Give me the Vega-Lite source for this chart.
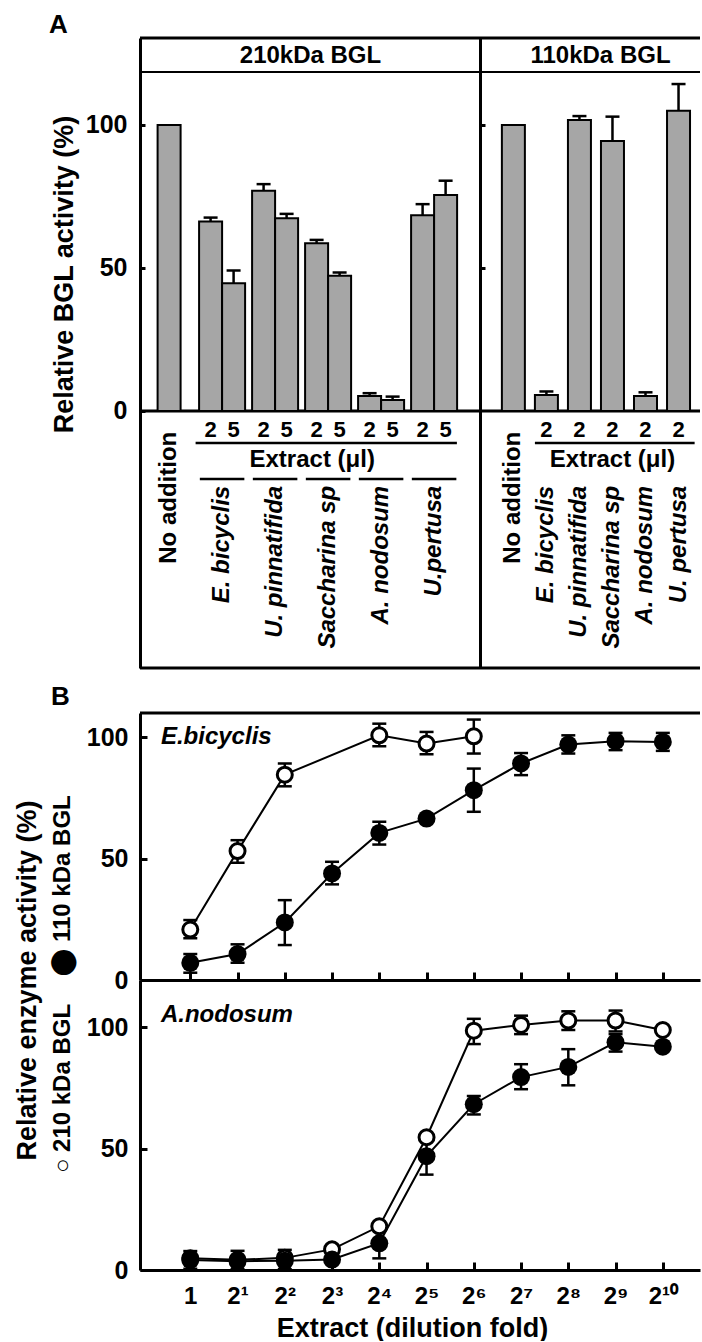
{
  "$schema": "https://vega.github.io/schema/vega-lite/v6.json",
  "background": "white",
  "padding": {"left": 13, "top": 12, "right": 0, "bottom": 0},
  "autosize": {"type": "pad"},
  "bounds": "flush",
  "spacing": 45,
  "config": {
    "font": "Liberation Sans",
    "view": {"stroke": null},
    "axis": {"labelFont": "Liberation Sans", "titleFont": "Liberation Sans", "labelFontWeight": "bold", "titleFontWeight": "bold", "labelColor": "black", "titleColor": "black", "domainColor": "black", "tickColor": "black", "grid": false, "labelFlush": false},
    "title": {"font": "Liberation Sans", "fontWeight": "bold", "color": "black"},
    "text": {"font": "Liberation Sans", "fontWeight": "bold", "color": "black"}
  },
  "datasets": {
    "bars": [
      {"panel": "210", "group": "No addition", "dose": null, "value": 100, "hi": null},
      {"panel": "210", "group": "E. bicyclis", "dose": "2", "value": 66.2, "hi": 67.6},
      {"panel": "210", "group": "E. bicyclis", "dose": "5", "value": 44.6, "hi": 49.1},
      {"panel": "210", "group": "U. pinnatifida", "dose": "2", "value": 77.0, "hi": 79.3},
      {"panel": "210", "group": "U. pinnatifida", "dose": "5", "value": 67.4, "hi": 68.9},
      {"panel": "210", "group": "Saccharina sp", "dose": "2", "value": 58.6, "hi": 59.8},
      {"panel": "210", "group": "Saccharina sp", "dose": "5", "value": 47.3, "hi": 48.4},
      {"panel": "210", "group": "A. nodosum", "dose": "2", "value": 5.2, "hi": 6.2},
      {"panel": "210", "group": "A. nodosum", "dose": "5", "value": 3.8, "hi": 5.0},
      {"panel": "210", "group": "U.pertusa", "dose": "2", "value": 68.4, "hi": 72.3},
      {"panel": "210", "group": "U.pertusa", "dose": "5", "value": 75.5, "hi": 80.5},
      {"panel": "110", "group": "No addition", "dose": null, "value": 100, "hi": null},
      {"panel": "110", "group": "E. bicyclis", "dose": "2", "value": 5.6, "hi": 6.8},
      {"panel": "110", "group": "U. pinnatifida", "dose": "2", "value": 101.7, "hi": 103.1},
      {"panel": "110", "group": "Saccharina sp", "dose": "2", "value": 94.4, "hi": 102.9},
      {"panel": "110", "group": "A. nodosum", "dose": "2", "value": 5.2, "hi": 6.5},
      {"panel": "110", "group": "U. pertusa", "dose": "2", "value": 105.0, "hi": 114.3}
    ],
    "curves": [
      {"species": "E.bicyclis", "bgl": "210", "fold": 1, "value": 20.8, "lo": 17.2, "hi": 24.7},
      {"species": "E.bicyclis", "bgl": "210", "fold": 2, "value": 53.1, "lo": 48.3, "hi": 57.6},
      {"species": "E.bicyclis", "bgl": "210", "fold": 4, "value": 84.6, "lo": 79.8, "hi": 89.2},
      {"species": "E.bicyclis", "bgl": "210", "fold": 16, "value": 100.8, "lo": 96.3, "hi": 105.6},
      {"species": "E.bicyclis", "bgl": "210", "fold": 32, "value": 97.4, "lo": 93.0, "hi": 102.2},
      {"species": "E.bicyclis", "bgl": "210", "fold": 64, "value": 100.4, "lo": 93.3, "hi": 107.3},
      {"species": "E.bicyclis", "bgl": "110", "fold": 1, "value": 7.1, "lo": 3.0, "hi": 10.7},
      {"species": "E.bicyclis", "bgl": "110", "fold": 2, "value": 10.7, "lo": 7.1, "hi": 14.7},
      {"species": "E.bicyclis", "bgl": "110", "fold": 4, "value": 23.7, "lo": 14.4, "hi": 32.9},
      {"species": "E.bicyclis", "bgl": "110", "fold": 8, "value": 43.9, "lo": 39.4, "hi": 48.7},
      {"species": "E.bicyclis", "bgl": "110", "fold": 16, "value": 60.6, "lo": 55.8, "hi": 65.2},
      {"species": "E.bicyclis", "bgl": "110", "fold": 32, "value": 66.5, "lo": null, "hi": null},
      {"species": "E.bicyclis", "bgl": "110", "fold": 64, "value": 78.2, "lo": 69.3, "hi": 87.1},
      {"species": "E.bicyclis", "bgl": "110", "fold": 128, "value": 89.2, "lo": 84.4, "hi": 93.5},
      {"species": "E.bicyclis", "bgl": "110", "fold": 256, "value": 97.0, "lo": 93.3, "hi": 100.8},
      {"species": "E.bicyclis", "bgl": "110", "fold": 512, "value": 98.4, "lo": 94.7, "hi": 101.8},
      {"species": "E.bicyclis", "bgl": "110", "fold": 1024, "value": 98.1, "lo": 94.4, "hi": 101.8},
      {"species": "A.nodosum", "bgl": "210", "fold": 1, "value": 4.8, "lo": null, "hi": null},
      {"species": "A.nodosum", "bgl": "210", "fold": 2, "value": 4.2, "lo": null, "hi": null},
      {"species": "A.nodosum", "bgl": "210", "fold": 4, "value": 5.0, "lo": null, "hi": null},
      {"species": "A.nodosum", "bgl": "210", "fold": 8, "value": 8.5, "lo": null, "hi": null},
      {"species": "A.nodosum", "bgl": "210", "fold": 16, "value": 18.0, "lo": null, "hi": null},
      {"species": "A.nodosum", "bgl": "210", "fold": 32, "value": 54.7, "lo": null, "hi": null},
      {"species": "A.nodosum", "bgl": "210", "fold": 64, "value": 98.6, "lo": 93.1, "hi": 103.5},
      {"species": "A.nodosum", "bgl": "210", "fold": 128, "value": 101.0, "lo": 97.2, "hi": 104.8},
      {"species": "A.nodosum", "bgl": "210", "fold": 256, "value": 102.8, "lo": 98.9, "hi": 106.6},
      {"species": "A.nodosum", "bgl": "210", "fold": 512, "value": 102.8, "lo": 98.3, "hi": 106.9},
      {"species": "A.nodosum", "bgl": "210", "fold": 1024, "value": 98.9, "lo": null, "hi": null},
      {"species": "A.nodosum", "bgl": "110", "fold": 1, "value": 4.1, "lo": 0.5, "hi": 7.8},
      {"species": "A.nodosum", "bgl": "110", "fold": 2, "value": 3.6, "lo": 0.3, "hi": 7.9},
      {"species": "A.nodosum", "bgl": "110", "fold": 4, "value": 3.8, "lo": 0.3, "hi": 8.3},
      {"species": "A.nodosum", "bgl": "110", "fold": 8, "value": 4.3, "lo": null, "hi": null},
      {"species": "A.nodosum", "bgl": "110", "fold": 16, "value": 11.0, "lo": 4.8, "hi": 17.2},
      {"species": "A.nodosum", "bgl": "110", "fold": 32, "value": 46.9, "lo": 39.3, "hi": 53.8},
      {"species": "A.nodosum", "bgl": "110", "fold": 64, "value": 68.3, "lo": 64.1, "hi": 71.7},
      {"species": "A.nodosum", "bgl": "110", "fold": 128, "value": 79.5, "lo": 74.5, "hi": 84.8},
      {"species": "A.nodosum", "bgl": "110", "fold": 256, "value": 83.7, "lo": 76.1, "hi": 91.0},
      {"species": "A.nodosum", "bgl": "110", "fold": 512, "value": 93.8, "lo": 90.0, "hi": 97.2},
      {"species": "A.nodosum", "bgl": "110", "fold": 1024, "value": 92.0, "lo": null, "hi": null}
    ]
  },
  "vconcat": [
    {
      "width": 560,
      "height": 630,
      "title": {"text": "A", "anchor": "start", "frame": "group", "fontSize": 26, "dx": -91, "offset": -22.5, "baseline": "alphabetic"},
      "layer": [
        {
          "layer": [
            {"data": {"values": [{}]}, "mark": {"type": "rule", "strokeWidth": 3, "color": "black"},
             "encoding": {"y": {"datum": 130.4, "type": "quantitative", "scale": {"domain": [-89.9, 130.4], "nice": false, "zero": false}}}},
            {"data": {"values": [{}]}, "mark": {"type": "rule", "strokeWidth": 2, "color": "black"},
             "encoding": {"y": {"datum": 118.5, "type": "quantitative", "scale": {"domain": [-89.9, 130.4], "nice": false, "zero": false}}}},
            {"data": {"values": [{}]}, "mark": {"type": "rule", "strokeWidth": 3, "color": "black"},
             "encoding": {"y": {"datum": 0, "type": "quantitative", "scale": {"domain": [-89.9, 130.4], "nice": false, "zero": false}}}},
            {"data": {"values": [{}]}, "mark": {"type": "rule", "strokeWidth": 3, "color": "black"},
             "encoding": {"y": {"datum": -89.9, "type": "quantitative", "scale": {"domain": [-89.9, 130.4], "nice": false, "zero": false}}}},
            {"data": {"name": "bars"}, "transform": [{"filter": "datum.panel == '210' && datum.dose == null"}],
             "mark": {"type": "bar", "width": {"band": 0.434}, "fill": "#a6a6a6", "stroke": "black", "strokeWidth": 2},
             "encoding": {
               "x": {"field": "group", "type": "nominal", "scale": {"type": "band", "domain": ["No addition", "E. bicyclis", "U. pinnatifida", "Saccharina sp", "A. nodosum", "U.pertusa"], "range": [0, 340], "paddingInner": 0, "paddingOuter": 0.2075, "align": 0.118},
                     "axis": {"orient": "top", "title": "210kDa BGL", "titleY": 17, "titleBaseline": "middle", "titleFontSize": 24, "domain": false, "ticks": false, "labels": false, "minExtent": 0}},
               "y": {"field": "value", "type": "quantitative", "scale": {"domain": [-89.9, 130.4], "nice": false, "zero": false},
                     "axis": {"orient": "left", "values": [0, 50, 100], "title": "Relative BGL activity (%)", "titleX": -76, "titleY": 236, "titleAngle": 270, "titleAlign": "center", "titleBaseline": "middle", "titleFontSize": 27, "labelFontSize": 25, "tickSize": -5, "tickWidth": 3, "labelPadding": 18, "domainWidth": 3}}
             }},
            {"data": {"name": "bars"}, "transform": [{"filter": "datum.panel == '210' && datum.hi != null"}],
             "mark": {"type": "rule", "strokeWidth": 2.5, "color": "black"},
             "encoding": {
               "x": {"field": "group", "type": "nominal", "scale": {"type": "band", "domain": ["No addition", "E. bicyclis", "U. pinnatifida", "Saccharina sp", "A. nodosum", "U.pertusa"], "range": [0, 340], "paddingInner": 0, "paddingOuter": 0.2075, "align": 0.118}},
               "xOffset": {"field": "dose", "type": "nominal", "scale": {"type": "band", "domain": ["2", "5"], "paddingInner": 0, "paddingOuter": 0.152}},
               "y": {"field": "value", "type": "quantitative", "scale": {"domain": [-89.9, 130.4], "nice": false, "zero": false}},
               "y2": {"field": "hi"}
             }},
            {"data": {"name": "bars"}, "transform": [{"filter": "datum.panel == '210' && datum.hi != null"}],
             "mark": {"type": "tick", "orient": "horizontal", "size": 14, "thickness": 2.5, "color": "black", "opacity": 1},
             "encoding": {
               "x": {"field": "group", "type": "nominal", "scale": {"type": "band", "domain": ["No addition", "E. bicyclis", "U. pinnatifida", "Saccharina sp", "A. nodosum", "U.pertusa"], "range": [0, 340], "paddingInner": 0, "paddingOuter": 0.2075, "align": 0.118}},
               "xOffset": {"field": "dose", "type": "nominal", "scale": {"type": "band", "domain": ["2", "5"], "paddingInner": 0, "paddingOuter": 0.152}},
               "y": {"field": "hi", "type": "quantitative", "scale": {"domain": [-89.9, 130.4], "nice": false, "zero": false}}
             }},
            {"data": {"name": "bars"}, "transform": [{"filter": "datum.panel == '210' && datum.dose != null"}],
             "mark": {"type": "bar", "fill": "#a6a6a6", "stroke": "black", "strokeWidth": 2},
             "encoding": {
               "x": {"field": "group", "type": "nominal", "scale": {"type": "band", "domain": ["No addition", "E. bicyclis", "U. pinnatifida", "Saccharina sp", "A. nodosum", "U.pertusa"], "range": [0, 340], "paddingInner": 0, "paddingOuter": 0.2075, "align": 0.118}},
               "xOffset": {"field": "dose", "type": "nominal", "scale": {"type": "band", "domain": ["2", "5"], "paddingInner": 0, "paddingOuter": 0.152}},
               "y": {"field": "value", "type": "quantitative", "scale": {"domain": [-89.9, 130.4], "nice": false, "zero": false}}
             }},
            {"data": {"name": "bars"}, "transform": [{"filter": "datum.panel == '210' && datum.dose != null"}],
             "mark": {"type": "text", "fontSize": 22, "baseline": "middle"},
             "encoding": {
               "x": {"field": "group", "type": "nominal", "scale": {"type": "band", "domain": ["No addition", "E. bicyclis", "U. pinnatifida", "Saccharina sp", "A. nodosum", "U.pertusa"], "range": [0, 340], "paddingInner": 0, "paddingOuter": 0.2075, "align": 0.118}},
               "xOffset": {"field": "dose", "type": "nominal", "scale": {"type": "band", "domain": ["2", "5"], "paddingInner": 0, "paddingOuter": 0.152}},
               "y": {"datum": -6.6, "type": "quantitative", "scale": {"domain": [-89.9, 130.4], "nice": false, "zero": false}},
               "text": {"field": "dose"}
             }},
            {"data": {"values": [{}]},
             "mark": {"type": "rule", "strokeWidth": 2.5, "color": "black"},
             "encoding": {
               "x": {"datum": "E. bicyclis", "type": "nominal", "bandPosition": 0, "scale": {"type": "band", "domain": ["No addition", "E. bicyclis", "U. pinnatifida", "Saccharina sp", "A. nodosum", "U.pertusa"], "range": [0, 340], "paddingInner": 0, "paddingOuter": 0.2075, "align": 0.118}},
               "x2": {"datum": "U.pertusa", "bandPosition": 0.93},
               "y": {"datum": -11.2, "type": "quantitative", "scale": {"domain": [-89.9, 130.4], "nice": false, "zero": false}}
             }},
            {"data": {"values": [{}]},
             "mark": {"type": "text", "text": "Extract (μl)", "fontSize": 24, "baseline": "middle", "align": "center"},
             "encoding": {
               "x": {"datum": "Saccharina sp", "type": "nominal", "bandPosition": 0.2, "scale": {"type": "band", "domain": ["No addition", "E. bicyclis", "U. pinnatifida", "Saccharina sp", "A. nodosum", "U.pertusa"], "range": [0, 340], "paddingInner": 0, "paddingOuter": 0.2075, "align": 0.118}},
               "y": {"datum": -17.1, "type": "quantitative", "scale": {"domain": [-89.9, 130.4], "nice": false, "zero": false}}
             }},
            {"data": {"name": "bars"}, "transform": [{"filter": "datum.panel == '210' && datum.dose == '2'"}],
             "mark": {"type": "rule", "strokeWidth": 2.5, "color": "black"},
             "encoding": {
               "x": {"field": "group", "type": "nominal", "bandPosition": 0.08, "scale": {"type": "band", "domain": ["No addition", "E. bicyclis", "U. pinnatifida", "Saccharina sp", "A. nodosum", "U.pertusa"], "range": [0, 340], "paddingInner": 0, "paddingOuter": 0.2075, "align": 0.118}},
               "x2": {"field": "group", "bandPosition": 0.92},
               "y": {"datum": -23.8, "type": "quantitative", "scale": {"domain": [-89.9, 130.4], "nice": false, "zero": false}}
             }},
            {"data": {"name": "bars"}, "transform": [{"filter": "datum.panel == '210' && datum.dose == '2'"}],
             "mark": {"type": "text", "angle": 270, "align": "right", "baseline": "middle", "fontSize": 24, "fontStyle": "italic"},
             "encoding": {
               "x": {"field": "group", "type": "nominal", "scale": {"type": "band", "domain": ["No addition", "E. bicyclis", "U. pinnatifida", "Saccharina sp", "A. nodosum", "U.pertusa"], "range": [0, 340], "paddingInner": 0, "paddingOuter": 0.2075, "align": 0.118}},
               "y": {"datum": -26.2, "type": "quantitative", "scale": {"domain": [-89.9, 130.4], "nice": false, "zero": false}},
               "text": {"field": "group"}
             }},
            {"data": {"name": "bars"}, "transform": [{"filter": "datum.panel == '210' && datum.dose == null"}],
             "mark": {"type": "text", "angle": 270, "align": "right", "baseline": "middle", "fontSize": 24},
             "encoding": {
               "x": {"field": "group", "type": "nominal", "scale": {"type": "band", "domain": ["No addition", "E. bicyclis", "U. pinnatifida", "Saccharina sp", "A. nodosum", "U.pertusa"], "range": [0, 340], "paddingInner": 0, "paddingOuter": 0.2075, "align": 0.118}},
               "y": {"datum": -7.3, "type": "quantitative", "scale": {"domain": [-89.9, 130.4], "nice": false, "zero": false}},
               "text": {"field": "group"}
             }}
          ]
        },
        {
          "layer": [
            {"data": {"name": "bars"}, "transform": [{"filter": "datum.panel == '110' && datum.hi != null"}],
             "mark": {"type": "rule", "strokeWidth": 2.5, "color": "black"},
             "encoding": {
               "x": {"field": "group", "type": "nominal", "scale": {"type": "band", "domain": ["No addition", "E. bicyclis", "U. pinnatifida", "Saccharina sp", "A. nodosum", "U. pertusa"], "range": [340, 580], "paddingInner": 0.3037, "paddingOuter": 0.785, "align": 0.422},
                     "axis": {"orient": "top", "title": "110kDa BGL", "titleY": 17, "titleBaseline": "middle", "titleFontSize": 24, "domain": false, "ticks": false, "labels": false, "minExtent": 0}},
               "y": {"field": "value", "type": "quantitative", "scale": {"domain": [-89.9, 130.4], "nice": false, "zero": false},
                     "axis": {"orient": "right", "offset": -220, "values": [50, 100], "labels": false, "title": null, "tickSize": 5, "tickWidth": 3, "domainWidth": 3}},
               "y2": {"field": "hi"}
             }},
            {"data": {"name": "bars"}, "transform": [{"filter": "datum.panel == '110' && datum.hi != null"}],
             "mark": {"type": "tick", "orient": "horizontal", "size": 14, "thickness": 2.5, "color": "black", "opacity": 1},
             "encoding": {
               "x": {"field": "group", "type": "nominal", "scale": {"type": "band", "domain": ["No addition", "E. bicyclis", "U. pinnatifida", "Saccharina sp", "A. nodosum", "U. pertusa"], "range": [340, 580], "paddingInner": 0.3037, "paddingOuter": 0.785, "align": 0.422}},
               "y": {"field": "hi", "type": "quantitative", "scale": {"domain": [-89.9, 130.4], "nice": false, "zero": false}}
             }},
            {"data": {"name": "bars"}, "transform": [{"filter": "datum.panel == '110'"}],
             "mark": {"type": "bar", "fill": "#a6a6a6", "stroke": "black", "strokeWidth": 2},
             "encoding": {
               "x": {"field": "group", "type": "nominal", "scale": {"type": "band", "domain": ["No addition", "E. bicyclis", "U. pinnatifida", "Saccharina sp", "A. nodosum", "U. pertusa"], "range": [340, 580], "paddingInner": 0.3037, "paddingOuter": 0.785, "align": 0.422}},
               "y": {"field": "value", "type": "quantitative", "scale": {"domain": [-89.9, 130.4], "nice": false, "zero": false}}
             }},
            {"data": {"name": "bars"}, "transform": [{"filter": "datum.panel == '110' && datum.dose != null"}],
             "mark": {"type": "text", "fontSize": 22, "baseline": "middle"},
             "encoding": {
               "x": {"field": "group", "type": "nominal", "scale": {"type": "band", "domain": ["No addition", "E. bicyclis", "U. pinnatifida", "Saccharina sp", "A. nodosum", "U. pertusa"], "range": [340, 580], "paddingInner": 0.3037, "paddingOuter": 0.785, "align": 0.422}},
               "y": {"datum": -6.6, "type": "quantitative", "scale": {"domain": [-89.9, 130.4], "nice": false, "zero": false}},
               "text": {"field": "dose"}
             }},
            {"data": {"values": [{}]},
             "mark": {"type": "rule", "strokeWidth": 2.5, "color": "black"},
             "encoding": {
               "x": {"datum": "E. bicyclis", "type": "nominal", "bandPosition": 0, "scale": {"type": "band", "domain": ["No addition", "E. bicyclis", "U. pinnatifida", "Saccharina sp", "A. nodosum", "U. pertusa"], "range": [340, 580], "paddingInner": 0.3037, "paddingOuter": 0.785, "align": 0.422}},
               "x2": {"datum": "U. pertusa", "bandPosition": 1.2},
               "y": {"datum": -11.2, "type": "quantitative", "scale": {"domain": [-89.9, 130.4], "nice": false, "zero": false}}
             }},
            {"data": {"values": [{}]},
             "mark": {"type": "text", "text": "Extract (μl)", "fontSize": 24, "baseline": "middle", "align": "center"},
             "encoding": {
               "x": {"datum": "Saccharina sp", "type": "nominal", "scale": {"type": "band", "domain": ["No addition", "E. bicyclis", "U. pinnatifida", "Saccharina sp", "A. nodosum", "U. pertusa"], "range": [340, 580], "paddingInner": 0.3037, "paddingOuter": 0.785, "align": 0.422}},
               "y": {"datum": -17.1, "type": "quantitative", "scale": {"domain": [-89.9, 130.4], "nice": false, "zero": false}}
             }},
            {"data": {"name": "bars"}, "transform": [{"filter": "datum.panel == '110' && datum.dose != null"}],
             "mark": {"type": "text", "angle": 270, "align": "right", "baseline": "middle", "fontSize": 24, "fontStyle": "italic"},
             "encoding": {
               "x": {"field": "group", "type": "nominal", "scale": {"type": "band", "domain": ["No addition", "E. bicyclis", "U. pinnatifida", "Saccharina sp", "A. nodosum", "U. pertusa"], "range": [340, 580], "paddingInner": 0.3037, "paddingOuter": 0.785, "align": 0.422}},
               "y": {"datum": -26.2, "type": "quantitative", "scale": {"domain": [-89.9, 130.4], "nice": false, "zero": false}},
               "text": {"field": "group"}
             }},
            {"data": {"name": "bars"}, "transform": [{"filter": "datum.panel == '110' && datum.dose == null"}],
             "mark": {"type": "text", "angle": 270, "align": "right", "baseline": "middle", "fontSize": 24},
             "encoding": {
               "x": {"field": "group", "type": "nominal", "scale": {"type": "band", "domain": ["No addition", "E. bicyclis", "U. pinnatifida", "Saccharina sp", "A. nodosum", "U. pertusa"], "range": [340, 580], "paddingInner": 0.3037, "paddingOuter": 0.785, "align": 0.422}},
               "y": {"datum": -7.3, "type": "quantitative", "scale": {"domain": [-89.9, 130.4], "nice": false, "zero": false}},
               "text": {"field": "group"}
             }}
          ]
        }
      ],
      "resolve": {"scale": {"x": "independent", "y": "independent", "xOffset": "independent"}, "axis": {"x": "independent", "y": "independent"}}
    },
    {
      "width": 560,
      "height": 557,
      "title": {"text": "B", "anchor": "start", "frame": "group", "fontSize": 26, "dx": -89, "offset": -19.5, "baseline": "alphabetic"},
      "layer": [
        {
          "layer": [
            {"data": {"name": "curves"}, "transform": [{"filter": "datum.species == 'E.bicyclis'"}],
             "mark": {"type": "line", "color": "black", "strokeWidth": 2},
             "encoding": {
               "x": {"field": "fold", "type": "quantitative", "scale": {"type": "log", "base": 2, "domain": [0.4782, 1767], "nice": false},
                     "axis": {"orient": "bottom", "offset": -290, "values": [1, 2, 4, 8, 16, 32, 64, 128, 256, 512, 1024], "labels": false, "title": null, "tickSize": -8, "tickWidth": 3, "domainWidth": 3}},
               "y": {"field": "value", "type": "quantitative", "scale": {"domain": [0, 110], "range": [267, 0], "nice": false, "zero": false},
                     "axis": {"orient": "left", "values": [0, 50, 100], "tickSize": -7, "tickWidth": 3, "domainWidth": 3, "labelFontSize": 25, "labelPadding": 19, "title": "⬤ 110 kDa BGL", "titleX": -78, "titleY": 172, "titleAngle": 270, "titleAlign": "center", "titleBaseline": "middle", "titleFontSize": 24}},
               "detail": {"field": "bgl"}
             }},
            {"data": {"name": "curves"}, "transform": [{"filter": "datum.species == 'E.bicyclis' && datum.hi != null"}],
             "mark": {"type": "rule", "strokeWidth": 2.5, "color": "black"},
             "encoding": {
               "x": {"field": "fold", "type": "quantitative", "scale": {"type": "log", "base": 2, "domain": [0.4782, 1767], "nice": false}},
               "y": {"field": "lo", "type": "quantitative", "scale": {"domain": [0, 110], "range": [267, 0], "nice": false, "zero": false}},
               "y2": {"field": "hi"}
             }},
            {"data": {"name": "curves"}, "transform": [{"filter": "datum.species == 'E.bicyclis' && datum.hi != null"}],
             "mark": {"type": "tick", "orient": "horizontal", "size": 14, "thickness": 2.5, "color": "black", "opacity": 1},
             "encoding": {
               "x": {"field": "fold", "type": "quantitative", "scale": {"type": "log", "base": 2, "domain": [0.4782, 1767], "nice": false}},
               "y": {"field": "hi", "type": "quantitative", "scale": {"domain": [0, 110], "range": [267, 0], "nice": false, "zero": false}}
             }},
            {"data": {"name": "curves"}, "transform": [{"filter": "datum.species == 'E.bicyclis' && datum.lo != null"}],
             "mark": {"type": "tick", "orient": "horizontal", "size": 14, "thickness": 2.5, "color": "black", "opacity": 1},
             "encoding": {
               "x": {"field": "fold", "type": "quantitative", "scale": {"type": "log", "base": 2, "domain": [0.4782, 1767], "nice": false}},
               "y": {"field": "lo", "type": "quantitative", "scale": {"domain": [0, 110], "range": [267, 0], "nice": false, "zero": false}}
             }},
            {"data": {"name": "curves"}, "transform": [{"filter": "datum.species == 'E.bicyclis' && datum.bgl == '210'"}],
             "mark": {"type": "point", "shape": "circle", "filled": true, "fill": "white", "stroke": "black", "strokeWidth": 3, "size": 225, "opacity": 1},
             "encoding": {
               "x": {"field": "fold", "type": "quantitative", "scale": {"type": "log", "base": 2, "domain": [0.4782, 1767], "nice": false}},
               "y": {"field": "value", "type": "quantitative", "scale": {"domain": [0, 110], "range": [267, 0], "nice": false, "zero": false}}
             }},
            {"data": {"name": "curves"}, "transform": [{"filter": "datum.species == 'E.bicyclis' && datum.bgl == '110'"}],
             "mark": {"type": "point", "shape": "circle", "filled": true, "color": "black", "size": 324, "opacity": 1},
             "encoding": {
               "x": {"field": "fold", "type": "quantitative", "scale": {"type": "log", "base": 2, "domain": [0.4782, 1767], "nice": false}},
               "y": {"field": "value", "type": "quantitative", "scale": {"domain": [0, 110], "range": [267, 0], "nice": false, "zero": false}}
             }},
            {"data": {"values": [{}]},
             "mark": {"type": "text", "text": "E.bicyclis", "align": "left", "baseline": "middle", "fontSize": 24, "fontStyle": "italic"},
             "encoding": {
               "x": {"datum": 0.65, "type": "quantitative", "scale": {"type": "log", "base": 2, "domain": [0.4782, 1767], "nice": false}},
               "y": {"datum": 100, "type": "quantitative", "scale": {"domain": [0, 110], "range": [267, 0], "nice": false, "zero": false}}
             }}
          ]
        },
        {
          "layer": [
            {"data": {"name": "curves"}, "transform": [{"filter": "datum.species == 'A.nodosum'"}],
             "mark": {"type": "line", "color": "black", "strokeWidth": 2},
             "encoding": {
               "x": {"field": "fold", "type": "quantitative", "scale": {"type": "log", "base": 2, "domain": [0.4782, 1767], "nice": false},
                     "axis": {"orient": "bottom", "values": [1, 2, 4, 8, 16, 32, 64, 128, 256, 512, 1024], "labelExpr": "['1','2¹','2²','2³','2⁴','2⁵','2⁶','2⁷','2⁸','2⁹','2¹⁰'][round(log(datum.value)/LN2)]", "labelFontSize": 24, "labelPadding": 41, "labelBaseline": "alphabetic", "tickSize": -8, "tickWidth": 3, "domainWidth": 3, "title": "Extract (dilution fold)", "titleFontSize": 27, "titleX": 272, "titleY": 66, "titleBaseline": "alphabetic"}},
               "y": {"field": "value", "type": "quantitative", "scale": {"domain": [0, 119.5], "range": [557, 267], "nice": false, "zero": false},
                     "axis": {"orient": "left", "values": [0, 50, 100], "tickSize": -7, "tickWidth": 3, "domainWidth": 3, "labelFontSize": 25, "labelPadding": 19, "title": "○ 210 kDa BGL", "titleX": -78, "titleY": 375, "titleAngle": 270, "titleAlign": "center", "titleBaseline": "middle", "titleFontSize": 24}},
               "detail": {"field": "bgl"}
             }},
            {"data": {"name": "curves"}, "transform": [{"filter": "datum.species == 'A.nodosum' && datum.hi != null"}],
             "mark": {"type": "rule", "strokeWidth": 2.5, "color": "black"},
             "encoding": {
               "x": {"field": "fold", "type": "quantitative", "scale": {"type": "log", "base": 2, "domain": [0.4782, 1767], "nice": false}},
               "y": {"field": "lo", "type": "quantitative", "scale": {"domain": [0, 119.5], "range": [557, 267], "nice": false, "zero": false}},
               "y2": {"field": "hi"}
             }},
            {"data": {"name": "curves"}, "transform": [{"filter": "datum.species == 'A.nodosum' && datum.hi != null"}],
             "mark": {"type": "tick", "orient": "horizontal", "size": 14, "thickness": 2.5, "color": "black", "opacity": 1},
             "encoding": {
               "x": {"field": "fold", "type": "quantitative", "scale": {"type": "log", "base": 2, "domain": [0.4782, 1767], "nice": false}},
               "y": {"field": "hi", "type": "quantitative", "scale": {"domain": [0, 119.5], "range": [557, 267], "nice": false, "zero": false}}
             }},
            {"data": {"name": "curves"}, "transform": [{"filter": "datum.species == 'A.nodosum' && datum.lo != null"}],
             "mark": {"type": "tick", "orient": "horizontal", "size": 14, "thickness": 2.5, "color": "black", "opacity": 1},
             "encoding": {
               "x": {"field": "fold", "type": "quantitative", "scale": {"type": "log", "base": 2, "domain": [0.4782, 1767], "nice": false}},
               "y": {"field": "lo", "type": "quantitative", "scale": {"domain": [0, 119.5], "range": [557, 267], "nice": false, "zero": false}}
             }},
            {"data": {"name": "curves"}, "transform": [{"filter": "datum.species == 'A.nodosum' && datum.bgl == '210'"}],
             "mark": {"type": "point", "shape": "circle", "filled": true, "fill": "white", "stroke": "black", "strokeWidth": 3, "size": 225, "opacity": 1},
             "encoding": {
               "x": {"field": "fold", "type": "quantitative", "scale": {"type": "log", "base": 2, "domain": [0.4782, 1767], "nice": false}},
               "y": {"field": "value", "type": "quantitative", "scale": {"domain": [0, 119.5], "range": [557, 267], "nice": false, "zero": false}}
             }},
            {"data": {"name": "curves"}, "transform": [{"filter": "datum.species == 'A.nodosum' && datum.bgl == '110'"}],
             "mark": {"type": "point", "shape": "circle", "filled": true, "color": "black", "size": 324, "opacity": 1},
             "encoding": {
               "x": {"field": "fold", "type": "quantitative", "scale": {"type": "log", "base": 2, "domain": [0.4782, 1767], "nice": false}},
               "y": {"field": "value", "type": "quantitative", "scale": {"domain": [0, 119.5], "range": [557, 267], "nice": false, "zero": false}}
             }},
            {"data": {"values": [{}]},
             "mark": {"type": "text", "text": "A.nodosum", "align": "left", "baseline": "middle", "fontSize": 24, "fontStyle": "italic"},
             "encoding": {
               "x": {"datum": 0.65, "type": "quantitative", "scale": {"type": "log", "base": 2, "domain": [0.4782, 1767], "nice": false}},
               "y": {"datum": 105, "type": "quantitative", "scale": {"domain": [0, 119.5], "range": [557, 267], "nice": false, "zero": false}}
             }}
          ]
        },
        {"data": {"values": [{}]},
         "mark": {"type": "rule", "strokeWidth": 3, "color": "black"},
         "encoding": {
           "y": {"datum": 110, "type": "quantitative", "scale": {"domain": [0, 110], "range": [267, 0], "nice": false, "zero": false},
                 "axis": {"orient": "left", "domain": false, "ticks": false, "labels": false, "title": "Relative enzyme activity (%)", "titleX": -113, "titleY": 267, "titleAngle": 270, "titleAlign": "center", "titleBaseline": "middle", "titleFontSize": 27}}
         }}
      ],
      "resolve": {"scale": {"x": "independent", "y": "independent"}, "axis": {"x": "independent", "y": "independent"}}
    }
  ]
}
